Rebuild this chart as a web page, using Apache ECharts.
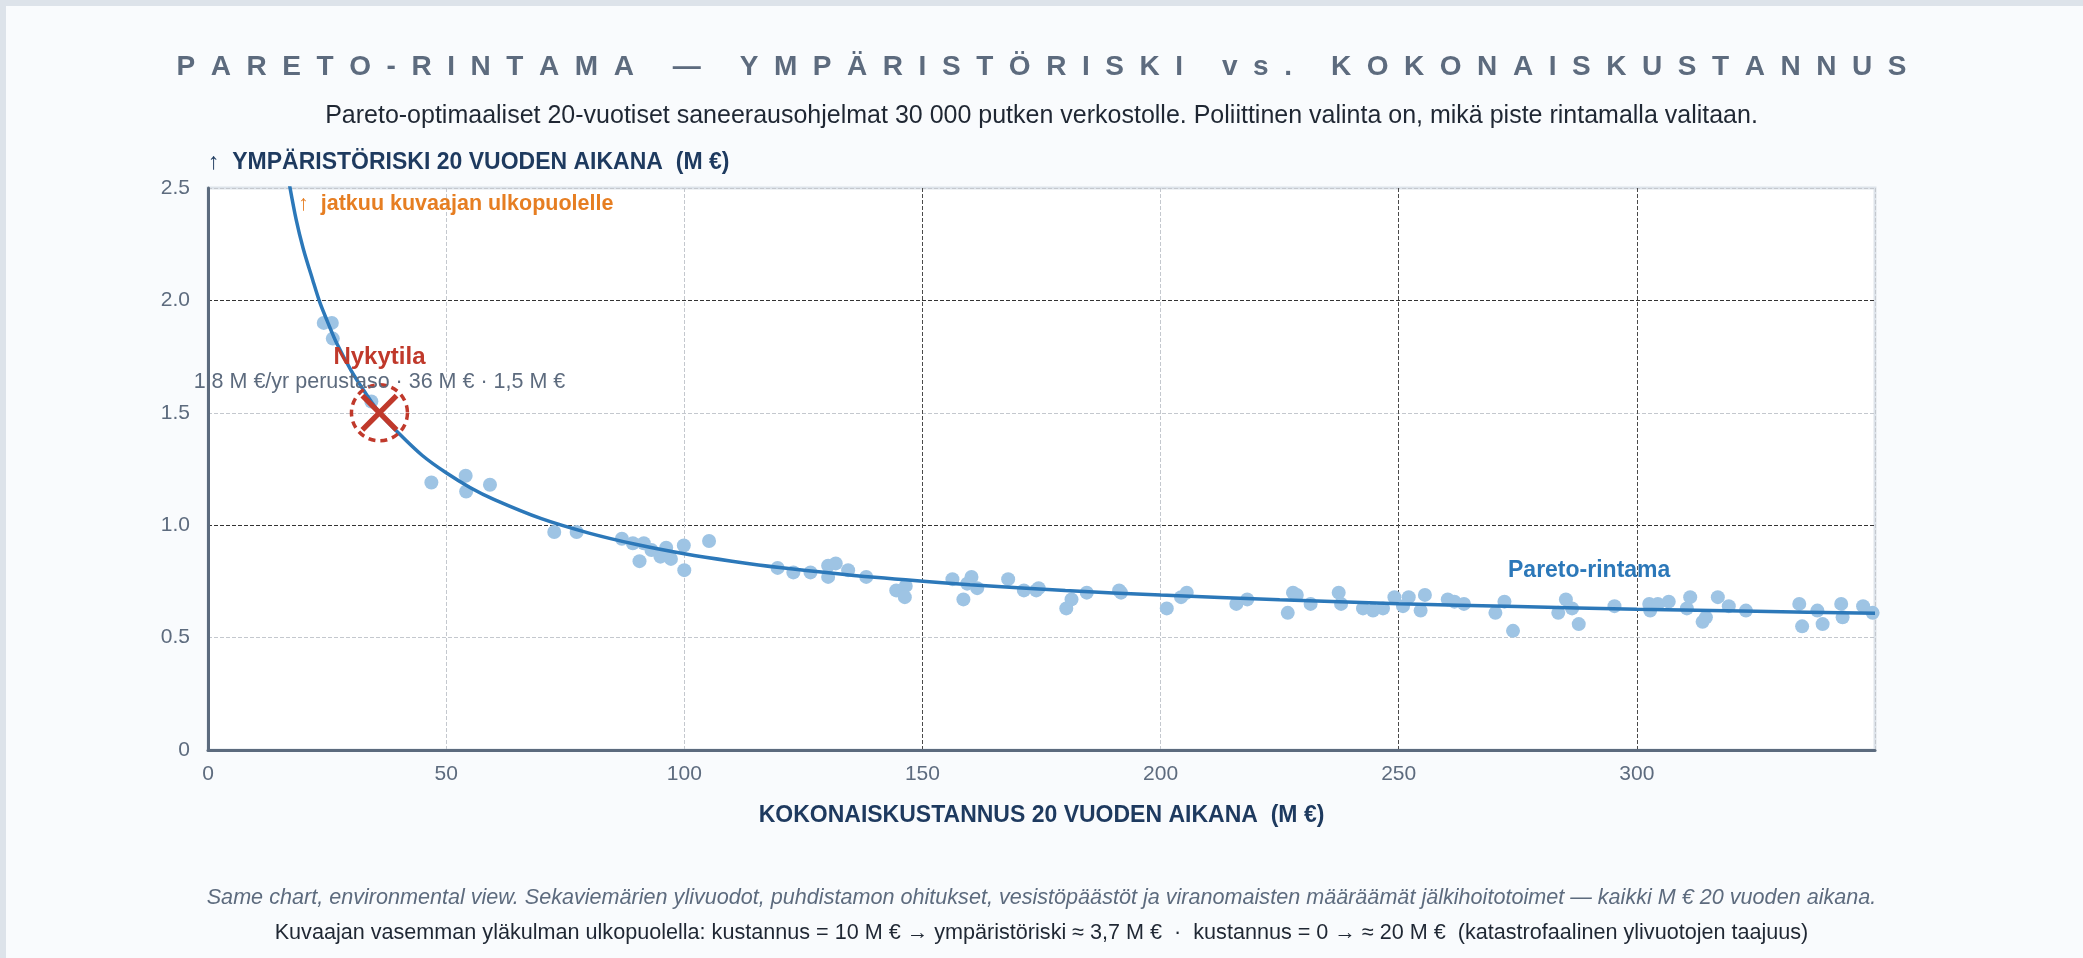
<!DOCTYPE html>
<html lang="fi">
<head>
    <meta charset="UTF-8">
    <title>Pareto-rintama</title>
    <script type="text/javascript" src="https://cdn.jsdelivr.net/npm/echarts@6/dist/echarts.min.js"></script>
    <style>
        html, body { margin: 0; padding: 0; background: #f9fbfd; }
        #main { width: 2083px; height: 958px; }
    </style>
</head>
<body>
<div id="main"></div>

<script>
    // ohjelmat: [kustannus M €, ympäristöriski M €]
    var programs = [
        [24.3, 1.90], [26.0, 1.90], [26.2, 1.83], [34.3, 1.55],
        [46.9, 1.19], [54.1, 1.22], [54.2, 1.15], [59.2, 1.18],
        [72.7, 0.97], [77.4, 0.97], [86.9, 0.94], [89.2, 0.92], [91.5, 0.92], [90.6, 0.84],
        [93.1, 0.89], [95.0, 0.86], [96.2, 0.90], [97.2, 0.85], [99.9, 0.91], [100.0, 0.80],
        [105.2, 0.93], [119.6, 0.81], [122.9, 0.79], [126.5, 0.79], [130.2, 0.82], [131.8, 0.83],
        [130.2, 0.77], [134.4, 0.80], [138.2, 0.77], [144.5, 0.71], [146.5, 0.73], [146.3, 0.68],
        [156.3, 0.76], [160.3, 0.77], [159.4, 0.74], [161.5, 0.72], [158.6, 0.67], [168.0, 0.76],
        [171.3, 0.71], [174.4, 0.72], [173.9, 0.71], [180.2, 0.63], [181.3, 0.67], [184.5, 0.70],
        [191.3, 0.71], [191.7, 0.70], [201.3, 0.63], [204.3, 0.68], [205.5, 0.70],
        [215.9, 0.65], [218.2, 0.67], [226.7, 0.61], [227.8, 0.70], [228.6, 0.69], [231.5, 0.65],
        [237.4, 0.70], [237.9, 0.65], [242.5, 0.63], [244.6, 0.62], [246.7, 0.63], [249.1, 0.68],
        [250.9, 0.64], [252.1, 0.68], [254.6, 0.62], [255.5, 0.69], [260.3, 0.67], [261.7, 0.66],
        [263.7, 0.65], [270.3, 0.61], [272.2, 0.66], [274.0, 0.53], [283.5, 0.61], [285.1, 0.67],
        [286.4, 0.63], [287.8, 0.56], [295.3, 0.64], [302.6, 0.65], [302.8, 0.62], [304.4, 0.65],
        [306.7, 0.66], [310.5, 0.63], [311.2, 0.68], [313.8, 0.57], [314.5, 0.59], [317.0, 0.68],
        [319.3, 0.64], [322.9, 0.62], [334.1, 0.65], [334.7, 0.55], [337.9, 0.62], [339.0, 0.56],
        [342.9, 0.65], [343.2, 0.59], [347.5, 0.64], [349.5, 0.61]
    ];

    // Pareto-rintama luettuna kuvasta (jatkuu yläreunan yli)
    var frontier = [
        [16.8, 2.55], [18.5, 2.36], [20, 2.23], [22, 2.09], [23.5, 1.99], [25, 1.91], [27, 1.81],
        [30, 1.69], [33, 1.59], [36, 1.50], [40, 1.41], [45, 1.31], [50, 1.233], [55, 1.168],
        [60, 1.115], [70, 1.029], [80, 0.965], [90, 0.914], [100, 0.873], [110, 0.840],
        [120, 0.812], [140, 0.768], [160, 0.735], [180, 0.709], [200, 0.689], [225, 0.668],
        [250, 0.651], [275, 0.638], [300, 0.626], [325, 0.617], [350, 0.608]
    ];

    var currentState = [[36, 1.5]];

    var xTicks = [0, 50, 100, 150, 200, 250, 300];
    var yTicks = ['0', '0.5', '1.0', '1.5', '2.0', '2.5'];

    var FONT = '"Liberation Sans", Arial, Helvetica, sans-serif';
    var titleText = 'PARETO-RINTAMA — YMPÄRISTÖRISKI vs. KOKONAISKUSTANNUS';
    var spacedTitle = titleText.split('').join('  ');

    var chartDom = document.getElementById('main');
    var myChart = echarts.init(chartDom);
    var option;

    option = {
        backgroundColor: '#f9fbfd',
        animation: false,
        textStyle: { fontFamily: FONT },
        title: [
            {
                text: spacedTitle,
                left: 'center',
                top: 48,
                textStyle: { fontSize: 28, fontWeight: 'bold', color: '#5d6b7e', fontFamily: FONT }
            },
            {
                text: 'Pareto-optimaaliset 20-vuotiset saneerausohjelmat 30 000 putken verkostolle. Poliittinen valinta on, mikä piste rintamalla valitaan.',
                left: 'center',
                top: 99,
                textStyle: { fontSize: 25, fontWeight: 'normal', color: '#1f2733', fontFamily: FONT }
            },
            {
                text: 'Same chart, environmental view. Sekaviemärien ylivuodot, puhdistamon ohitukset, vesistöpäästöt ja viranomaisten määräämät jälkihoitotoimet — kaikki M € 20 vuoden aikana.',
                left: 'center',
                top: 882,
                textStyle: { fontSize: 21.6, fontWeight: 'normal', fontStyle: 'italic', color: '#5d6b7e', fontFamily: FONT }
            },
            {
                text: 'Kuvaajan vasemman yläkulman ulkopuolella: kustannus = 10 M € → ympäristöriski ≈ 3,7 M €  ·  kustannus = 0 → ≈ 20 M €  (katastrofaalinen ylivuotojen taajuus)',
                left: 'center',
                top: 917,
                textStyle: { fontSize: 21.6, fontWeight: 'normal', color: '#1f2733', fontFamily: FONT }
            }
        ],
        grid: {
            left: 208,
            right: 208,
            top: 188,
            bottom: 208,
            show: true,
            backgroundColor: '#ffffff',
            borderColor: '#dde3ea',
            borderWidth: 3
        },
        xAxis: {
            type: 'value',
            min: 0,
            max: 350,
            interval: 50,
            name: 'KOKONAISKUSTANNUS 20 VUODEN AIKANA  (M €)',
            nameLocation: 'middle',
            nameGap: 54,
            nameTextStyle: { fontSize: 23, fontWeight: 'bold', color: '#1e3a5f', fontFamily: FONT },
            axisLine: { show: true, lineStyle: { color: '#5c6b7e', width: 3 } },
            axisTick: { show: false },
            axisLabel: {
                fontSize: 21, color: '#5d6b7e', margin: 14, showMaxLabel: false,
                formatter: function (v) { return xTicks.indexOf(v) >= 0 ? String(v) : ''; }
            },
            splitLine: {
                show: true,
                lineStyle: {
                    type: 'dashed', width: 1,
                    color: ['#c4c8ce', '#c4c8ce', '#c4c8ce', '#4a4a4a', '#c4c8ce', '#4a4a4a', '#4a4a4a', '#c4c8ce']
                }
            }
        },
        yAxis: {
            type: 'value',
            min: 0,
            max: 2.5,
            interval: 0.5,
            name: '↑  YMPÄRISTÖRISKI 20 VUODEN AIKANA  (M €)',
            nameLocation: 'end',
            nameGap: 14,
            nameTextStyle: { fontSize: 23, fontWeight: 'bold', color: '#1e3a5f', align: 'left', fontFamily: FONT },
            axisLine: { show: true, lineStyle: { color: '#5c6b7e', width: 3 } },
            axisTick: { show: false },
            axisLabel: {
                fontSize: 21, color: '#5d6b7e', margin: 18,
                formatter: function (v) { return yTicks[Math.round(v * 2)]; }
            },
            splitLine: {
                show: true,
                lineStyle: {
                    type: 'dashed', width: 1,
                    color: ['#c4c8ce', '#c4c8ce', '#333333', '#c4c8ce', '#333333', '#c4c8ce']
                }
            }
        },
        graphic: [
            {
                type: 'rect',
                left: 0, top: 0,
                shape: { width: 2083, height: 958 },
                style: { fill: 'none', stroke: '#dde3ea', lineWidth: 6 },
                silent: true
            },
            {
                type: 'text',
                left: 298, top: 193,
                style: {
                    text: '↑  jatkuu kuvaajan ulkopuolelle',
                    fill: '#e67e22',
                    font: 'bold 21.5px ' + FONT
                },
                z: 10
            },
            {
                type: 'text',
                left: 1508, top: 559,
                style: {
                    text: 'Pareto-rintama',
                    fill: '#2c78b9',
                    font: 'bold 23px ' + FONT
                },
                z: 10
            }
        ],
        series: [
            {
                name: 'Ohjelmat',
                type: 'scatter',
                symbolSize: 14,
                itemStyle: { color: '#9ec4e4', opacity: 1 },
                data: programs,
                z: 2
            },
            {
                name: 'Pareto-rintama',
                type: 'line',
                smooth: 0.3,
                showSymbol: false,
                clip: true,
                lineStyle: { color: '#2c78b9', width: 3.5 },
                data: frontier,
                z: 3
            },
            {
                name: 'Nykytila',
                type: 'scatter',
                symbol: 'circle',
                symbolSize: 56,
                itemStyle: {
                    color: 'rgba(255,255,255,0)',
                    borderColor: '#c0392b',
                    borderWidth: 3.5,
                    borderType: [7, 5],
                    opacity: 1
                },
                label: {
                    show: true,
                    position: 'top',
                    distance: -10,
                    formatter: '{a|Nykytila}\n{b|1,8 M €/yr perustaso · 36 M € · 1,5 M €}',
                    rich: {
                        a: { fontSize: 24, fontWeight: 'bold', color: '#c0392b', lineHeight: 28, fontFamily: FONT },
                        b: { fontSize: 21.5, color: '#5d6b7e', lineHeight: 22, fontFamily: FONT }
                    }
                },
                data: currentState,
                z: 5
            },
            {
                name: 'Nykytila-merkki',
                type: 'scatter',
                symbol: 'path://M1,0L5,4L9,0L10,1L6,5L10,9L9,10L5,6L1,10L0,9L4,5L0,1Z',
                symbolSize: 38,
                itemStyle: { color: '#c0392b', opacity: 1 },
                data: currentState,
                z: 6
            }
        ]
    };

    myChart.setOption(option);
</script>
</body>
</html>
